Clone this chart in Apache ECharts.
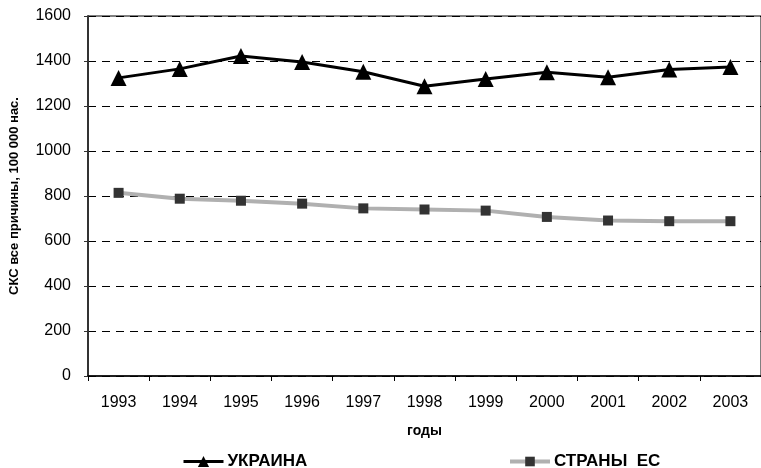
<!DOCTYPE html>
<html>
<head>
<meta charset="utf-8">
<script src="https://cdn.jsdelivr.net/npm/echarts@6/dist/echarts.min.js"></script>
<style>
  html, body { margin: 0; padding: 0; background: #fff; }
  #chart { width: 761px; height: 468px; }
</style>
</head>
<body>
<div id="chart"></div>
<script>
// ---- data ----
const years = ['1993', '1994', '1995', '1996', '1997', '1998', '1999', '2000', '2001', '2002', '2003'];
const ukraina = [1325, 1365, 1422, 1396, 1352, 1288, 1320, 1350, 1328, 1362, 1373];
const stranyEs = [814, 788, 779, 766, 745, 740, 735, 707, 691, 688, 688];
const yTicks = [0, 200, 400, 600, 800, 1000, 1200, 1400, 1600];

const chart = echarts.init(document.getElementById('chart'));

const font = 'Arial, "Liberation Sans", sans-serif';

const option = {
    animation: false,
    grid: {
        left: 82, top: 16, right: -7, bottom: 92,
        show: true, borderColor: '#000', borderWidth: 1
    },
    legend: [
        {
            data: ['УКРАИНА'],
            left: 177, top: 448,
            itemWidth: 40, itemHeight: 14, itemGap: 4,
            lineStyle: { width: 3 },
            textStyle: { fontFamily: font, fontWeight: 'bold', fontSize: 17, color: '#000', padding: [0, 0, 0, -1] }
        },
        {
            data: ['СТРАНЫ  ЕС'],
            left: 503, top: 448,
            itemWidth: 40, itemHeight: 12, itemGap: 4,
            lineStyle: { width: 4 },
            textStyle: { fontFamily: font, fontWeight: 'bold', fontSize: 17, color: '#000', padding: [0, 0, 0, -1] }
        }
    ],
    xAxis: {
        type: 'category',
        data: years,
        name: 'годы',
        nameLocation: 'middle',
        nameGap: 48,
        nameTextStyle: { fontFamily: font, fontWeight: 'bold', fontSize: 14, color: '#000' },
        axisLine: { lineStyle: { color: '#000', width: 1.5 } },
        axisTick: { show: true, length: 5, lineStyle: { color: '#000' } },
        axisLabel: { fontFamily: font, fontSize: 16, color: '#000', margin: 19 }
    },
    yAxis: {
        type: 'value',
        min: 0, max: 1600, interval: 200,
        name: 'СКС все причины, 100 000 нас.',
        nameLocation: 'middle',
        nameGap: 67,
        nameTextStyle: { fontFamily: font, fontWeight: 'bold', fontSize: 13, color: '#000' },
        axisLine: { show: true, lineStyle: { color: '#333', width: 2 } },
        axisTick: { show: true, length: 4, lineStyle: { color: '#333' } },
        axisLabel: {
            fontFamily: font, fontSize: 16, color: '#000', margin: 17,
            formatter: v => (yTicks.includes(v) ? String(v) : '')
        },
        splitLine: { show: true, lineStyle: { color: '#000', type: [8, 6], width: 1 } }
    },
    series: [
        {
            name: 'УКРАИНА',
            type: 'line',
            data: ukraina,
            symbol: 'triangle',
            symbolSize: 16,
            itemStyle: { color: '#000' },
            lineStyle: { color: '#000', width: 3 },
            z: 3
        },
        {
            name: 'СТРАНЫ  ЕС',
            type: 'line',
            data: stranyEs,
            symbol: 'rect',
            symbolSize: 10,
            itemStyle: { color: '#333' },
            lineStyle: { color: '#b0b0b0', width: 4 },
            z: 2
        }
    ]
};

chart.setOption(option);
</script>
</body>
</html>
